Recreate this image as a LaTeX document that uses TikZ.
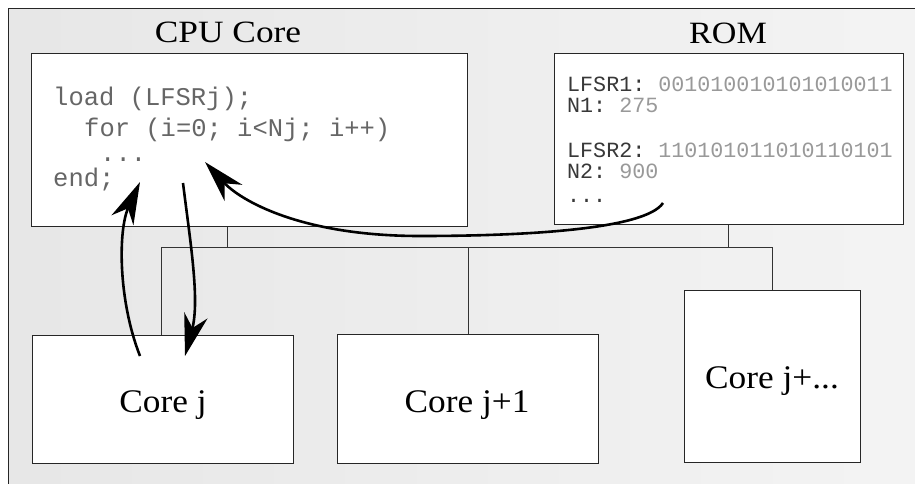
\documentclass[tikz,border=0pt]{standalone}
\usepackage{fontspec}
\setmainfont{Liberation Serif}
\setmonofont{Liberation Mono}
\usetikzlibrary{arrows.meta}
\tikzset{flowtip/.tip={Stealth[length=42pt,width=24pt,inset=13pt]}}
\begin{document}
\begin{tikzpicture}[x=1pt,y=-1pt,
  box/.style={draw=black!85,line width=1.3pt,fill=white,anchor=north west,inner sep=0pt},
  bus/.style={draw=black!80,line width=1pt},
  flow/.style={line width=2.6pt,black,-flowtip},
  title/.style={anchor=base,inner sep=0pt,font=\fontsize{31}{36}\selectfont},
  corelbl/.style={anchor=base,inner sep=0pt,font=\fontsize{33}{38}\selectfont},
  code/.style={anchor=base west,inner sep=0pt,text=black!60,font=\ttfamily\fontsize{25.5}{30}\selectfont},
  romtxt/.style={anchor=base west,inner sep=0pt,font=\ttfamily\fontsize{21.7}{26}\selectfont}]
\useasboundingbox (0,0) rectangle (915,483);
\fill[white] (0,0) rectangle (915,483);
% shaded panel with its frame on the left and top
\shade[left color=gray!19,right color=gray!9] (8.5,8.5) rectangle (916,484);
\draw[line width=1.5pt,black!85] (8.5,484) -- (8.5,8.5) -- (916,8.5);

% titles
\node[title] (cputitle) at (228,42) {\scalebox{1.14}[1]{CPU Core}};
\node[title] (romtitle) at (728,43) {\scalebox{1.1}[1]{ROM}};

% boxes
\node[box,minimum width=436pt,minimum height=173pt] (cpu) at (31,53) {};
\node[box,minimum width=349pt,minimum height=171pt] (rom) at (554,53) {};
\node[box,minimum width=261pt,minimum height=128pt] (corej) at (32,335) {};
\node[box,minimum width=261pt,minimum height=129pt] (corej1) at (337,334) {};
\node[box,minimum width=176pt,minimum height=172pt] (corejn) at (684,290) {};

% bus
\coordinate (busL) at (161,247);
\coordinate (busR) at (772,247);
\coordinate (tapC) at (227,247);
\coordinate (tapR) at (728,247);
\draw[bus] (tapC |- cpu.south) -- (tapC);
\draw[bus] (tapR |- rom.south) -- (tapR);
\draw[bus] (busL |- corej.north) -- (busL) -- (busR) -- (busR |- corejn.north);
\draw[bus] (corej1.north) -- (corej1.north |- busL);

% code in the CPU core
\node[code] (c1) at (53,105) {load (LFSRj);};
\node[code] (c2) at (84,136) {for (i=0; i<Nj; i++)};
\node[code] (c3) at (100,161) {...};
\node[code] (c4) at (53,186) {end;};

% ROM contents
\node[romtxt] (r1) at (567,91) {\textcolor{black!78}{LFSR1:} \textcolor{black!40}{001010010101010011}};
\node[romtxt] (r2) at (567,112) {\textcolor{black!78}{N1:} \textcolor{black!40}{275}};
\node[romtxt] (r3) at (567,157) {\textcolor{black!78}{LFSR2:} \textcolor{black!40}{110101011010110101}};
\node[romtxt] (r4) at (567,178) {\textcolor{black!78}{N2:} \textcolor{black!40}{900}};
\node[romtxt] (r5) at (567,202) {\textcolor{black!78}{...}};

% core labels
\node[corelbl] (lj) at (163,412) {\scalebox{1.07}[1]{Core j}};
\node[corelbl] (lj1) at (467,412) {\scalebox{1.07}[1]{Core j+1}};
\node[corelbl] (ljn) at (772,388) {\scalebox{1.07}[1]{Core j+...}};

% arrows
\coordinate (upS) at (140,356);
\coordinate (upE) at (140,182);
\coordinate (dnS) at (183,183);
\coordinate (dnE) at (185,356);
\coordinate (romS) at (663,203);
\coordinate (romE) at (205,162);
\draw[flow] (upS) .. controls (118,300) and (118,230) .. (upE);
\draw[flow] (dnS) .. controls (190,240) and (200,300) .. (dnE);
\draw[flow] (romS) .. controls (645,230) and (520,236) .. (420,236)
  .. controls (300,236) and (240,200) .. (romE);
\end{tikzpicture}
\end{document}
